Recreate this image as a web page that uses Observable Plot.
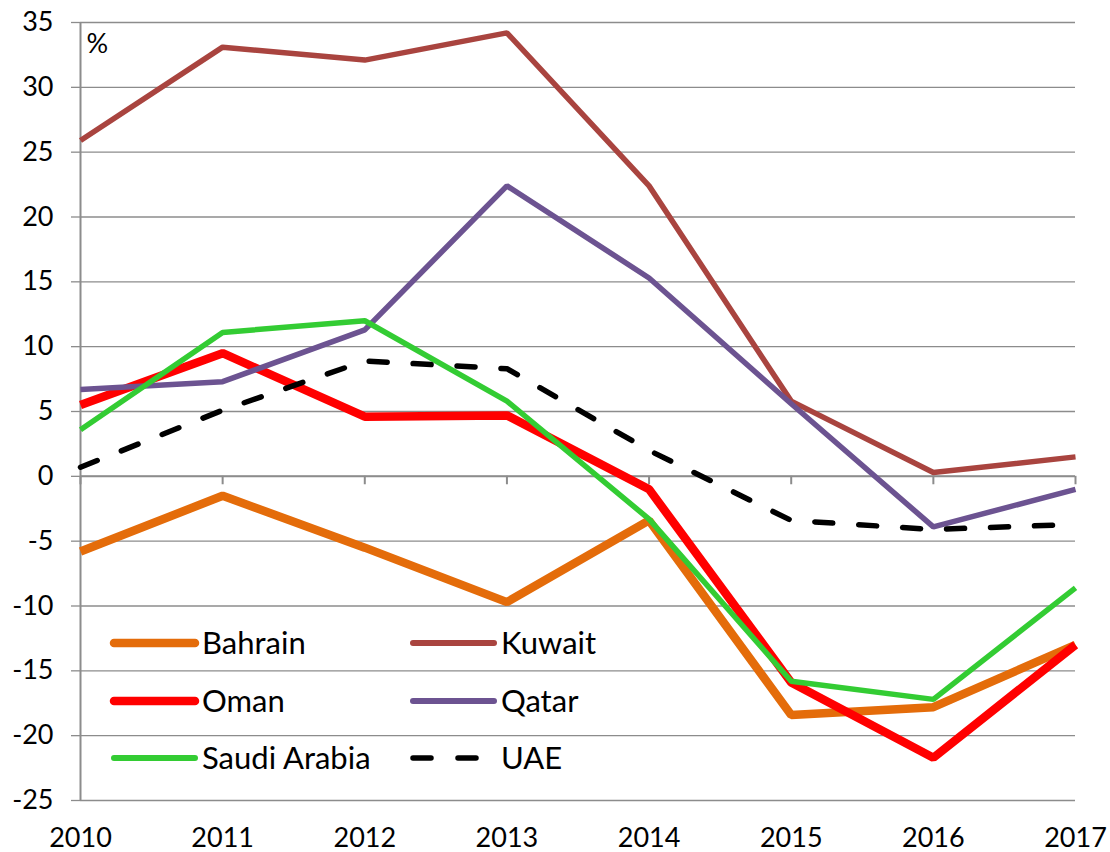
<!DOCTYPE html>
<html>
<head>
<meta charset="utf-8">
<script src="https://cdn.jsdelivr.net/npm/d3@7"></script>
<script src="https://cdn.jsdelivr.net/npm/@observablehq/plot@0.6"></script>
<style>
  html, body { margin: 0; padding: 0; background: #fff; }
  #wrap { position: relative; width: 1110px; height: 852px; font-family: Lato, "Open Sans", sans-serif; }
  #legend { position: absolute; left: 0; top: 0; pointer-events: none; }
</style>
</head>
<body>
<div id="wrap"></div>
<script>
const years = [2010, 2011, 2012, 2013, 2014, 2015, 2016, 2017];
const bahrain = [-5.8, -1.5, -5.5, -9.7, -3.4, -18.4, -17.8, -13.0];
const kuwait  = [25.9, 33.1, 32.1, 34.2, 22.4, 5.8, 0.3, 1.5];
const oman    = [5.5, 9.5, 4.6, 4.7, -1.0, -15.9, -21.7, -13.0];
const qatar   = [6.7, 7.3, 11.3, 22.4, 15.3, 5.6, -3.9, -1.0];
const saudi   = [3.6, 11.1, 12.0, 5.8, -3.3, -15.8, -17.2, -8.6];
const uae     = [0.7, 5.1, 8.9, 8.3, 2.0, -3.4, -4.1, -3.7];
const yTicks  = [-25, -20, -15, -10, -5, 0, 5, 10, 15, 20, 25, 30, 35];
const unitLabel = "%";

const series = [
  {name: "Bahrain", values: bahrain, color: "#E46C0A", width: 8.5, dash: null},
  {name: "Kuwait", values: kuwait, color: "#A9443F", width: 5.5, dash: null},
  {name: "Oman", values: oman, color: "#FF0000", width: 8.5, dash: null},
  {name: "Qatar", values: qatar, color: "#6C5391", width: 5.5, dash: null},
  {name: "Saudi Arabia", values: saudi, color: "#33CC33", width: 5.5, dash: null},
  {name: "UAE", values: uae, color: "#000000", width: 5.5, dash: "18,26"}
];

const grid = "#8c8c8c";
const marks = [
  Plot.gridY(yTicks, {stroke: grid, strokeOpacity: 1, strokeWidth: 1.3}),
  Plot.ruleX([2010], {stroke: grid, strokeWidth: 2}),
  Plot.ruleY([0], {stroke: grid, strokeWidth: 2}),
  Plot.ruleX(years, {x: d => d, y1: 0, y2: -0.65, stroke: grid, strokeWidth: 2}),
  Plot.axisY(yTicks, {label: null, tickSize: 9, tickPadding: 18, stroke: grid, strokeWidth: 1.3, fontSize: 27, fill: "#000", tickFormat: d => String(d)}),
  Plot.axisX(years, {label: null, anchor: "bottom", tickSize: 0, tickPadding: 27, fontSize: 27, fill: "#000", tickFormat: d => String(d)}),
  Plot.text([unitLabel], {frameAnchor: "top-left", dx: 6, dy: 11, fontSize: 27, fill: "#000", textAnchor: "start"})
];
for (const s of series) {
  const data = years.map((y, i) => ({year: y, value: s.values[i]}));
  marks.push(Plot.line(data, {
    x: "year", y: "value", stroke: s.color, strokeWidth: s.width,
    strokeDasharray: s.dash, strokeLinecap: s.dash ? "round" : "butt", strokeLinejoin: "miter"
  }));
}

const chart = Plot.plot({
  width: 1110,
  height: 852,
  marginLeft: 80,
  marginRight: 35,
  marginTop: 22,
  marginBottom: 52,
  style: {fontFamily: "Lato, 'Open Sans', sans-serif", background: "#fff", overflow: "visible"},
  x: {domain: [2010, 2017], label: null},
  y: {domain: [-25, 35], label: null},
  marks
});
document.getElementById("wrap").appendChild(chart);

// Legend overlay
const leg = d3.select("#wrap").append("svg")
  .attr("id", "legend").attr("width", 1110).attr("height", 852);
const colX = [114, 413];
const rowY = [643, 701, 758];
series.forEach((s, i) => {
  const x0 = colX[i % 2], y0 = rowY[Math.floor(i / 2)];
  leg.append("line")
    .attr("x1", x0).attr("x2", x0 + 81).attr("y1", y0).attr("y2", y0)
    .attr("stroke", s.color).attr("stroke-width", s.dash ? 5.5 : (s.width > 6 ? 8.5 : 6))
    .attr("stroke-linecap", "round")
    .attr("stroke-dasharray", s.dash ? "18,27" : null);
  leg.append("text")
    .attr("x", x0 + 88).attr("y", y0 + 11)
    .attr("font-size", 31).attr("font-family", "Lato, 'Open Sans', sans-serif")
    .attr("fill", "#000")
    .text(s.name);
});
</script>
</body>
</html>
